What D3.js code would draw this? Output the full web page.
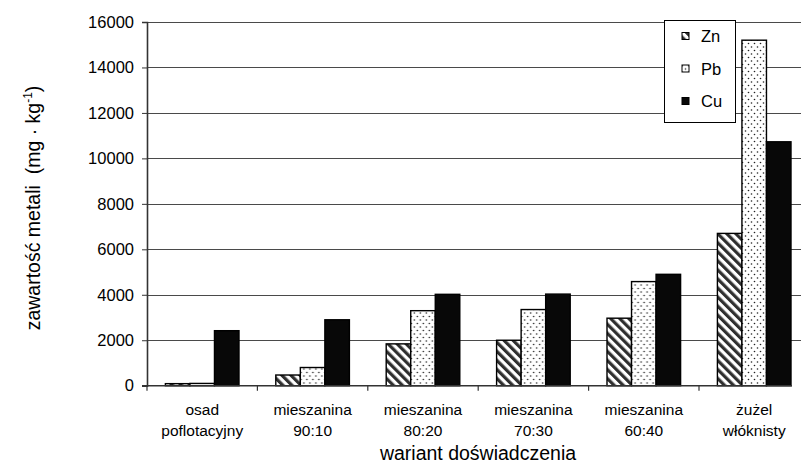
<!DOCTYPE html>
<html>
<head>
<meta charset="utf-8">
<script src="https://cdn.jsdelivr.net/npm/d3@7"></script>
<style>
  html, body { margin: 0; padding: 0; background: #fff; }
  svg { display: block; font-family: "Liberation Sans", Arial, sans-serif; }
</style>
</head>
<body>
<svg id="chart" width="801" height="468"></svg>
<script>
// Metal content per experimental variant
const categories = [
  ["osad", "poflotacyjny"],
  ["mieszanina", "90:10"],
  ["mieszanina", "80:20"],
  ["mieszanina", "70:30"],
  ["mieszanina", "60:40"],
  ["żużel", "włóknisty"]
];
const seriesNames = ["Zn", "Pb", "Cu"];
const znValues = [90, 470, 1840, 2000, 2970, 6700];
const pbValues = [100, 800, 3300, 3350, 4580, 15200];
const cuValues = [2420, 2900, 4020, 4030, 4900, 10730];
const yTicks = [0, 2000, 4000, 6000, 8000, 10000, 12000, 14000, 16000];

const seriesValues = { Zn: znValues, Pb: pbValues, Cu: cuValues };
const catKeys = categories.map(c => c.join(" "));

const svg = d3.select("#chart");
const plotLeft = 147, plotRight = 809.4, plotTop = 22, plotBottom = 385.7;

const x = d3.scaleBand().domain(catKeys).range([plotLeft, plotRight]).padding(0);
const bw = x.bandwidth();
const xs = d3.scaleBand().domain(seriesNames).range([bw / 6, bw * 5 / 6]).padding(0);
const y = d3.scaleLinear().domain([0, 16000]).range([plotBottom, plotTop]);

// fill patterns
const defs = svg.append("defs");
const stripe = defs.append("pattern")
  .attr("id", "pat-zn").attr("patternUnits", "userSpaceOnUse")
  .attr("width", 6.4).attr("height", 6.4)
  .attr("patternTransform", "rotate(-45)");
stripe.append("rect").attr("width", 6.4).attr("height", 6.4).attr("fill", "#fff");
stripe.append("rect").attr("x", 0).attr("width", 3.2).attr("height", 6.4).attr("fill", "#2f2f2f");

const dots = defs.append("pattern")
  .attr("id", "pat-pb").attr("patternUnits", "userSpaceOnUse")
  .attr("width", 6).attr("height", 7);
dots.append("rect").attr("width", 6).attr("height", 7).attr("fill", "#fff");
dots.append("circle").attr("cx", 1.5).attr("cy", 1.5).attr("r", 0.8).attr("fill", "#222");
dots.append("circle").attr("cx", 4.5).attr("cy", 5).attr("r", 0.8).attr("fill", "#222");

const fills = { Zn: "url(#pat-zn)", Pb: "url(#pat-pb)", Cu: "#080808" };

// gridlines
svg.append("g").selectAll("line")
  .data(yTicks.filter(t => t > 0))
  .join("line")
  .attr("x1", plotLeft).attr("x2", 801)
  .attr("y1", d => Math.round(y(d)) + 0.5).attr("y2", d => Math.round(y(d)) + 0.5)
  .attr("stroke", "#4a4a4a").attr("stroke-width", 1);

// y axis
const yAxis = d3.axisLeft(y).tickValues(yTicks).tickSize(5).tickPadding(8).tickFormat(d3.format("d"));
const yg = svg.append("g").attr("transform", `translate(${plotLeft},0)`).call(yAxis);
yg.select(".domain").attr("stroke", "#333").attr("stroke-width", 1.6);
yg.selectAll(".tick line").attr("stroke", "#333");
yg.selectAll(".tick text").attr("font-size", 16.5).attr("fill", "#000")
  .attr("font-family", "Liberation Sans, Arial, sans-serif");

// bars
const groups = svg.append("g").selectAll("g")
  .data(catKeys)
  .join("g")
  .attr("transform", d => `translate(${x(d)},0)`);

groups.selectAll("rect")
  .data((d, i) => seriesNames.map(s => ({ s, v: seriesValues[s][i] })))
  .join("rect")
  .attr("x", d => xs(d.s))
  .attr("y", d => y(d.v))
  .attr("width", xs.bandwidth())
  .attr("height", d => plotBottom - y(d.v))
  .attr("fill", d => fills[d.s])
  .attr("stroke", "#000").attr("stroke-width", 1.4);

// x axis baseline and category ticks
svg.append("line")
  .attr("x1", plotLeft - 5).attr("x2", 792)
  .attr("y1", plotBottom).attr("y2", plotBottom)
  .attr("stroke", "#333").attr("stroke-width", 1.6);
svg.append("g").selectAll("line")
  .data(catKeys)
  .join("line")
  .attr("x1", d => x(d)).attr("x2", d => x(d))
  .attr("y1", plotBottom).attr("y2", plotBottom + 5)
  .attr("stroke", "#333").attr("stroke-width", 1.2);

// category labels
const labels = svg.append("g").selectAll("text")
  .data(categories)
  .join("text")
  .attr("text-anchor", "middle")
  .attr("font-size", 15.5)
  .attr("fill", "#000")
  .attr("transform", (d, i) => `translate(${x(catKeys[i]) + bw / 2},0)`);
labels.append("tspan").attr("x", 0).attr("y", 415).text(d => d[0]);
labels.append("tspan").attr("x", 0).attr("y", 436).text(d => d[1]);

// axis titles
svg.append("text")
  .attr("x", 478).attr("y", 460)
  .attr("text-anchor", "middle")
  .attr("font-size", 19.5)
  .text("wariant doświadczenia");

const yt = svg.append("text")
  .attr("transform", "translate(40,208) rotate(-90)")
  .attr("text-anchor", "middle")
  .attr("font-size", 19.5)
  .attr("xml:space", "preserve");
yt.append("tspan").text("zawartość metali  (mg · kg");
yt.append("tspan").attr("font-size", 12).attr("dy", -8).text("-1");
yt.append("tspan").attr("dy", 8).text(")");

// legend
const lg = svg.append("g");
lg.append("rect")
  .attr("x", 664.5).attr("y", 20.5).attr("width", 71).attr("height", 102)
  .attr("fill", "#fff").attr("stroke", "#000").attr("stroke-width", 1);
const items = lg.selectAll("g.item")
  .data(seriesNames)
  .join("g")
  .attr("class", "item")
  .attr("transform", (d, i) => `translate(0,${i * 32.5})`);
items.append("rect")
  .attr("x", 682).attr("y", 32.5).attr("width", 7).attr("height", 7)
  .attr("fill", d => fills[d])
  .attr("stroke", "#000").attr("stroke-width", 1);
items.append("text")
  .attr("x", 701).attr("y", 42)
  .attr("font-size", 16.5)
  .text(d => d);
</script>
</body>
</html>
